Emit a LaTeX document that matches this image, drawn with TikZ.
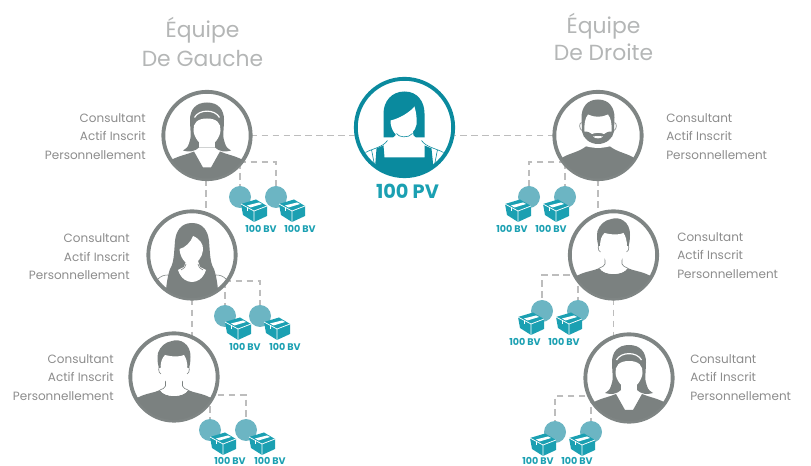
\documentclass[tikz,border=0pt]{standalone}
\usepackage{fontspec}
\setmainfont{Poppins}
\usetikzlibrary{backgrounds}
\definecolor{figgrey}{HTML}{7B8180}
\definecolor{ringgrey}{HTML}{7F8584}
\definecolor{deepteal}{HTML}{0A8A9E}
\definecolor{boxteal}{HTML}{1BA0B2}
\definecolor{discteal}{HTML}{6CB5C3}
\definecolor{dashgrey}{HTML}{BDBDBD}
\definecolor{txtgrey}{HTML}{8C8C8C}
\definecolor{titlegrey}{HTML}{B4B6B6}
\tikzset{
  x=0.75pt,y=-0.75pt,
  ring/.style={circle,draw=ringgrey,line width=2.9pt,fill=white,minimum size=65.5pt,inner sep=0pt},
  bigring/.style={circle,draw=deepteal,line width=2.9pt,fill=white,minimum size=73pt,inner sep=0pt},
  disc/.style={circle,fill=discteal,minimum size=16.5pt,inner sep=0pt},
  bv/.style={font=\fontsize{7.2}{8}\selectfont\bfseries,text=boxteal,inner sep=0pt},
  role/.style={font=\fontsize{9}{13.9}\selectfont,text=txtgrey,inner sep=0pt},
  title/.style={font=\fontsize{16.4}{21.7}\selectfont,text=titlegrey,inner sep=0pt,align=center},
  link/.style={draw=dashgrey,line width=1.1pt,dash pattern=on 5pt off 3.2pt},
  thin outline/.style={line width=0.45pt},
}
\newcommand\boxicon{%
  \fill[boxteal,line join=round] (-13,-7) -- (2,-11.5) -- (13,-5) -- (13,5) -- (0,11) -- (-11,4) -- cycle;
  \draw[white,line width=0.55pt] (-13,-7) -- (0,0) -- (13,-5) (0,0) -- (0,11);
  \fill[white] (-7,-5.5) -- (5,-8.5) -- (8,-7) -- (-3.5,-3.5) -- cycle;
  \draw[white,line width=0.4pt] (-7,-4) -- (-7,0);
}
\newcommand\badge[7]{%
  \node[disc] (#1) at (#2,#3) {};
  \begin{scope}[shift={(#4,#5)}]\boxicon\end{scope}
  \node[bv] (#1l) at (#6,#7) {100 BV};
}
\newcommand\bandwoman{%
  \fill[figgrey] (-50,26) -- (-35,24) .. controls (-27,20) and (-20,19) .. (-13,16) -- (-4,32) -- (4,32) -- (13,16) .. controls (20,19) and (27,20) .. (35,24) -- (50,26) -- (50,50) -- (-50,50) -- cycle;
  \fill[figgrey] (0,-33) .. controls (11,-33) and (17,-26) .. (17,-16) .. controls (17,-6) and (15,2) .. (18,8) .. controls (19,12) and (22,14) .. (24,15) .. controls (18,17) and (12,16) .. (8,12) -- (-8,12) .. controls (-12,16) and (-18,17) .. (-24,15) .. controls (-22,14) and (-19,12) .. (-18,8) .. controls (-15,2) and (-17,-6) .. (-17,-16) .. controls (-17,-26) and (-11,-33) .. (0,-33) -- cycle;
  \fill[white] (-8,6) -- (8,6) -- (8,12) -- (-8,12) -- cycle;
  \fill[white] (0,10.5) .. controls (-7,10.5) and (-13,2) .. (-13.5,-5) .. controls (-14,-12) and (-10,-17) .. (0,-17) .. controls (10,-17) and (14,-12) .. (13.5,-5) .. controls (13,2) and (7,10.5) .. (0,10.5) -- cycle;
  \draw[white,line width=0.9pt] (-12.5,-18) .. controls (-8,-26.5) and (8,-26.5) .. (12.5,-18);
}
\newcommand\longwoman{%
  \fill[figgrey] (0,-32) .. controls (11,-32) and (16,-24) .. (17,-14) .. controls (18,-2) and (18,8) .. (22,14) .. controls (24,20) and (26,28) .. (27,50) -- (-27,50) .. controls (-26,28) and (-24,20) .. (-22,14) .. controls (-18,8) and (-18,-2) .. (-17,-14) .. controls (-16,-24) and (-11,-32) .. (0,-32) -- cycle;
  \fill[white] (-6,6) -- (6,6) -- (8,12) -- (14,15) .. controls (11,24) and (5,27) .. (0,27) .. controls (-5,27) and (-11,24) .. (-14,15) -- (-8,12) -- cycle;
  \draw[figgrey,thin outline] (-6,9) .. controls (-6,12) and (-8,13) .. (-11,15) (6,9) .. controls (6,12) and (8,13) .. (11,15);
  \fill[white] (-1,9.5) .. controls (-7,9.5) and (-12,2) .. (-12.5,-6) .. controls (-7,-7) and (-1,-13) .. (1,-19) .. controls (8,-16) and (11.5,-11) .. (11,-5) .. controls (10.5,2) and (5,9.5) .. (-1,9.5) -- cycle;
  \draw[ringgrey,thin outline] (-24,20) .. controls (-28,20) and (-31,21) .. (-34,24) (24,20) .. controls (28,20) and (31,21) .. (34,24);
}
\newcommand\shortman{%
  \fill[figgrey] (-50,26) -- (-35,20) .. controls (-27,16) and (-20,16) .. (-14,13) .. controls (-10,21) and (10,21) .. (14,13) .. controls (20,16) and (27,16) .. (35,20) -- (50,26) -- (50,50) -- (-50,50) -- cycle;
  \fill[white] (-9,2) -- (9,2) -- (9,10) .. controls (10,12) and (12,13) .. (14,13) .. controls (10,21) and (-10,21) .. (-14,13) .. controls (-12,13) and (-10,12) .. (-9,10) -- cycle;
  \draw[figgrey,thin outline] (-8.5,3) -- (-8.5,9) .. controls (-9.5,11) and (-11,12) .. (-14,13) (8.5,3) -- (8.5,9) .. controls (9.5,11) and (11,12) .. (14,13);
  \fill[figgrey] (-2,-36) .. controls (6,-39) and (17,-33) .. (16.5,-20) .. controls (16.5,-16) and (16,-12) .. (15,-9) -- (-15,-9) .. controls (-16.5,-14) and (-17,-18) .. (-16,-24) .. controls (-14,-30) and (-9,-35) .. (-2,-36) -- cycle;
  \fill[white] (0,8.5) .. controls (-7,8.5) and (-13,0) .. (-13.5,-8) .. controls (-13.5,-15) and (-12,-19) .. (-9,-22) .. controls (-2,-20) and (6,-20) .. (10,-22) .. controls (12,-19) and (13.5,-15) .. (13.5,-8) .. controls (13,0) and (7,8.5) .. (0,8.5) -- cycle;
  \draw[figgrey,thin outline] (-13.5,-11) .. controls (-16,-11) and (-16,-4) .. (-13,-3) (13.5,-11) .. controls (16,-11) and (16,-4) .. (13,-3);
}
\newcommand\beardman{%
  \fill[figgrey] (-50,30) -- (-37,23) .. controls (-30,18) and (-20,17) .. (-12,11) -- (12,11) .. controls (20,17) and (30,18) .. (37,23) -- (50,30) -- (50,50) -- (-50,50) -- cycle;
  \fill[figgrey] (0,-36) .. controls (11,-36) and (16.5,-28) .. (16.5,-18) -- (16,-4) .. controls (15,3) and (8,8.5) .. (0,8.5) .. controls (-8,8.5) and (-15,3) .. (-16,-4) -- (-16.5,-18) .. controls (-16.5,-28) and (-11,-36) .. (0,-36) -- cycle;
  \fill[white] (-12,8) .. controls (-6,10) and (6,10) .. (12,8) -- (12,10.5) .. controls (6,13) and (-6,13) .. (-12,10.5) -- cycle;
  \fill[white] (-10,-21) .. controls (-4,-18) and (4,-18) .. (10,-21) .. controls (13,-17) and (14,-12) .. (13.5,-4) .. controls (11,-5) and (8,-3) .. (6,-1.5) .. controls (3,-3) and (-3,-3) .. (-6,-1.5) .. controls (-8,-3) and (-11,-5) .. (-13.5,-4) .. controls (-14,-12) and (-13,-17) .. (-10,-21) -- cycle;
  \fill[white] (-5,1) .. controls (-2,0.5) and (2,0.5) .. (5,1) .. controls (3,3.5) and (-3,3.5) .. (-5,1) -- cycle;
  \draw[figgrey,thin outline] (-16.5,-13) .. controls (-19,-13) and (-19,-6) .. (-16,-5) (16.5,-13) .. controls (19,-13) and (19,-6) .. (16,-5);
}
\newcommand\fringewoman{%
  \fill[deepteal] (0,-36) .. controls (13,-36) and (20,-26) .. (20,-14) -- (20,10) -- (-21,10) -- (-21,-14) .. controls (-21,-26) and (-13,-36) .. (0,-36) -- cycle;
  \fill[white] (-8,2) -- (8,2) -- (9,8) .. controls (11,11) and (13,12) .. (17,13) -- (20,19) -- (20,30) -- (-20,30) -- (-20,19) -- (-17,13) .. controls (-13,12) and (-11,11) .. (-9,8) -- cycle;
  \fill[white] (-1,10) .. controls (-8,10) and (-14,3) .. (-14,-7) .. controls (-5,-9) and (5,-15) .. (10,-21) .. controls (12,-14) and (12.5,-8) .. (12,-3) .. controls (11,3) and (5,10) .. (-1,10) -- cycle;
  \draw[deepteal,thin outline] (-8,6) .. controls (-6,10) and (4,11) .. (8,6);
  \fill[deepteal] (-28,21) -- (-21,18) -- (-20,30) -- (20,30) -- (20,18) -- (27,21) -- (31,60) -- (-31,60) -- cycle;
  \draw[deepteal,thin outline] (-39,25) .. controls (-32,21) and (-22,20) .. (-17,13) (39,25) .. controls (32,21) and (22,20) .. (17,13) (-33,22) -- (-28,48) (33,22) -- (28,48);
}
\newcommand\personfig[3]{%
  \begin{scope}[shift={(#1.center)}]
    \clip (0,0) circle (#2);
    #3
  \end{scope}
}
\begin{document}
\begin{tikzpicture}
\useasboundingbox (0,0) rectangle (811,466);
% persons
\node[bigring] (C) at (404.5,127.5) {};
\node[ring] (L1) at (207,135.5) {};
\node[ring] (L2) at (192,255) {};
\node[ring] (L3) at (174,377) {};
\node[ring] (R1) at (598,135.5) {};
\node[ring] (R2) at (613.5,255) {};
\node[ring] (R3) at (629,378) {};
\personfig{C}{47.5}{\fringewoman}
\personfig{L1}{43}{\bandwoman}
\personfig{L2}{43}{\longwoman}
\personfig{L3}{43}{\shortman}
\personfig{R1}{43}{\beardman}
\personfig{R2}{43}{\shortman}
\personfig{R3}{43}{\bandwoman}
% badges
\badge{a1}{240}{197}{254}{211}{261}{229}
\badge{a2}{276}{197}{292}{211}{300}{229}
\badge{b1}{225}{316}{238}{329}{245}{347}
\badge{b2}{260}{316}{277}{329}{285}{347}
\badge{c1}{210}{430}{223}{444}{230}{461}
\badge{c2}{246}{430}{262}{444}{270}{461}
\badge{d1}{529}{197}{518}{211}{512}{229}
\badge{d2}{565}{197}{556}{211}{551}{229}
\badge{e1}{542}{311}{531}{324}{525}{342}
\badge{e2}{578}{311}{569}{324}{564}{342}
\badge{f1}{555}{432}{543}{445}{538}{461}
\badge{f2}{591}{432}{582}{445}{577}{461}
% elbow junctions
\coordinate (j1) at (207,162);
\coordinate (j2) at (192,281);
\coordinate (j3) at (174,395);
\coordinate (j4) at (598,162);
\coordinate (j5) at (613.5,275);
\coordinate (j6) at (629,396);
\coordinate (v1) at (206,135.5);
\coordinate (v2) at (192,255);
\coordinate (v3) at (598,135.5);
\coordinate (v4) at (613.5,255);
\begin{scope}[on background layer]
  \draw[link] (L1.center) -- (C.center |- L1.center);
  \draw[link] (R1.center) -- (C.center |- R1.center);
  \draw[link] (v1) -- (v1 |- L2.center);
  \draw[link] (v2) -- (v2 |- L3.center);
  \draw[link] (v3) -- (v3 |- R2.center);
  \draw[link] (v4) -- (v4 |- R3.center);
  \draw[link] (j1) -| (a2.center);
  \draw[link] (j1 -| a1.center) -- (a1.center);
  \draw[link] (j2) -| (b2.center);
  \draw[link] (j2 -| b1.center) -- (b1.center);
  \draw[link] (j3) -| (c2.center);
  \draw[link] (j3 -| c1.center) -- (c1.center);
  \draw[link] (j4) -| (d1.center);
  \draw[link] (j4 -| d2.center) -- (d2.center);
  \draw[link] (j5) -| (e1.center);
  \draw[link] (j5 -| e2.center) -- (e2.center);
  \draw[link] (j6) -| (f1.center);
  \draw[link] (j6 -| f2.center) -- (f2.center);
\end{scope}
% texts
\node[title] (t1) at (202.5,42) {Équipe\\De Gauche};
\node[title] (t2) at (603.5,37) {Équipe\\[-1.5pt]De Droite};
\node[font=\fontsize{14.5}{16}\selectfont\bfseries,text=boxteal,inner sep=0pt] (pv) at (407.5,191) {100 PV};
\node[role,align=right,anchor=east] (n1) at (146,136.5) {Consultant\\Actif Inscrit\\Personnellement};
\node[role,align=right,anchor=east] (n2) at (130,257) {Consultant\\Actif Inscrit\\Personnellement};
\node[role,align=right,anchor=east] (n3) at (114,377.5) {Consultant\\Actif Inscrit\\Personnellement};
\node[role,align=left,anchor=west] (n4) at (666,136.5) {Consultant\\Actif Inscrit\\Personnellement};
\node[role,align=left,anchor=west] (n5) at (677,255.5) {Consultant\\Actif Inscrit\\Personnellement};
\node[role,align=left,anchor=west] (n6) at (690,377.5) {Consultant\\Actif Inscrit\\Personnellement};
\end{tikzpicture}
\end{document}
